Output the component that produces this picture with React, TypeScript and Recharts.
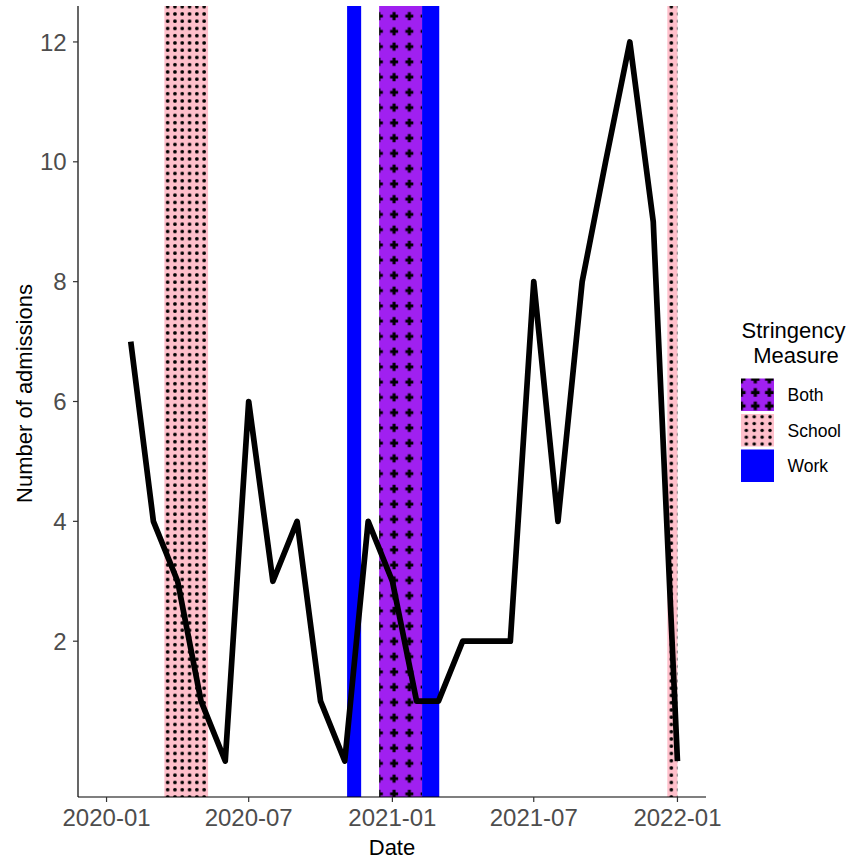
import React from "react";
import { LineChart, Line, XAxis, YAxis, ReferenceArea, Legend } from "recharts";

// ---- data ----
const months = [
  "2020-02", "2020-03", "2020-04", "2020-05", "2020-06", "2020-07",
  "2020-08", "2020-09", "2020-10", "2020-11", "2020-12", "2021-01",
  "2021-02", "2021-03", "2021-04", "2021-05", "2021-06", "2021-07",
  "2021-08", "2021-09", "2021-10", "2021-11", "2021-12", "2022-01",
];
const admissions = [7, 4, 3, 1, 0, 6, 3, 4, 1, 0, 4, 3, 1, 1, 2, 2, 2, 8, 4, 8, 10, 12, 9, 0];

const xTickLabels = ["2020-01", "2020-07", "2021-01", "2021-07", "2022-01"];
const yTicks = [2, 4, 6, 8, 10, 12];

const periodStart = ["2020-03-15", "2020-11-04", "2020-12-15", "2021-02-08", "2021-12-19"];
const periodEnd = ["2020-05-10", "2020-11-22", "2021-02-08", "2021-03-02", "2022-01-01"];
const periodType = ["School", "Work", "Both", "Work", "School"];

const legendLabels = ["Both", "School", "Work"];
const dataStart = "2020-01-01";
const dataEnd = "2022-01-01";

// ---- helpers ----
const DAY = 86400000;
const ORIGIN = Date.UTC(2020, 0, 1);
const toDay = (s: string) => {
  const [y, m, d] = s.split("-").map(Number);
  return (Date.UTC(y, m - 1, d || 1) - ORIGIN) / DAY;
};

const lineData = months.map((m, i) => ({ x: toDay(m), y: admissions[i] }));
const xTicks = xTickLabels.map(toDay);
const span = toDay(dataEnd) - toDay(dataStart);
const xDomain = [toDay(dataStart) - 0.05 * span, toDay(dataEnd) + 0.05 * span];
const yDomain = [-0.6, 12.6];

const fillFor: Record<string, string> = {
  School: "url(#schoolPat)",
  Work: "#0000FF",
  Both: "url(#bothPat)",
};
const legendFill: Record<string, string> = {
  School: "url(#schoolLegPat)",
  Work: "#0000FF",
  Both: "url(#bothLegPat)",
};

const FONT = "'Liberation Sans', Arial, Helvetica, sans-serif";

const crossPath = (cx: number, cy: number, arm: number, th: number) => {
  const a = arm / 2;
  const t = th / 2;
  return `M${cx - t},${cy - a}H${cx + t}V${cy - t}H${cx + a}V${cy + t}H${cx + t}V${cy + a}H${cx - t}V${cy + t}H${cx - a}V${cy - t}H${cx - t}Z`;
};

const XTick = (props: any) => {
  const { x, y, payload } = props;
  const idx = xTicks.indexOf(payload.value);
  return (
    <text x={x} y={y + 24.3} textAnchor="middle" fontSize={24} fill="#4D4D4D" fontFamily={FONT}>
      {idx >= 0 ? xTickLabels[idx] : ""}
    </text>
  );
};

const YTick = (props: any) => {
  const { x, y, payload } = props;
  return (
    <text x={x - 6.3} y={y} dy="0.36em" textAnchor="end" fontSize={24} fill="#4D4D4D" fontFamily={FONT}>
      {payload.value}
    </text>
  );
};

const LegendContent = () => {
  const ox = 720;
  const oy = 300;
  const keyX = 741 - ox;
  const keyYs = [378.5 - oy, 414 - oy, 449.5 - oy];
  return (
    <svg width={131} height={200} style={{ overflow: "visible", display: "block" }}>
      <text x={793.5 - ox} y={338.3 - oy} textAnchor="middle" fontSize={22} fill="#000" fontFamily={FONT}>
        Stringency
      </text>
      <text x={796 - ox} y={363.3 - oy} textAnchor="middle" fontSize={22} fill="#000" fontFamily={FONT}>
        Measure
      </text>
      {legendLabels.map((lab, i) => (
        <g key={lab}>
          <rect x={keyX} y={keyYs[i]} width={33} height={32.5} fill={legendFill[lab]} />
          <text
            x={787.5 - ox}
            y={keyYs[i] + 16.25}
            dy="0.36em"
            fontSize={17.5}
            fill="#000"
            fontFamily={FONT}
          >
            {lab}
          </text>
        </g>
      ))}
    </svg>
  );
};

export default function App() {
  return (
    <div style={{ position: "absolute", left: 0, top: 0, width: 851, height: 860, background: "#fff" }}>
      <svg width={0} height={0} style={{ position: "absolute" }}>
        <defs>
          <pattern id="schoolPat" patternUnits="userSpaceOnUse" x={164} y={3.1} width={7.3} height={7.25}>
            <rect x={0} y={0} width={7.3} height={7.25} fill="#FFC0CB" />
            <circle cx={3.65} cy={3.62} r={1.85} fill="#000" />
          </pattern>
          <pattern id="bothPat" patternUnits="userSpaceOnUse" x={386.5} y={8.5} width={15.25} height={15.25}>
            <rect x={0} y={0} width={15.25} height={15.25} fill="#A020F0" />
            <path d={crossPath(7.6, 7.6, 8, 3)} fill="#000" />
          </pattern>
          <pattern id="schoolLegPat" patternUnits="userSpaceOnUse" x={741.3} y={412.6} width={7.9} height={6.8}>
            <rect x={0} y={0} width={7.9} height={6.8} fill="#FFC0CB" />
            <circle cx={3.95} cy={3.4} r={1.75} fill="#000" />
          </pattern>
          <pattern id="bothLegPat" patternUnits="userSpaceOnUse" x={742.3} y={380.3} width={14} height={13.4}>
            <rect x={0} y={0} width={14} height={13.4} fill="#A020F0" />
            <path d={crossPath(7, 7, 8.5, 3.2)} fill="#000" />
          </pattern>
        </defs>
      </svg>
      <LineChart
        width={851}
        height={860}
        data={lineData}
        margin={{ top: 6, right: 145, bottom: 0, left: 0 }}
        style={{ fontFamily: FONT }}
      >
        <XAxis
          dataKey="x"
          type="number"
          domain={xDomain}
          ticks={xTicks}
          allowDataOverflow
          height={63}
          tickSize={5}
          tickMargin={0}
          axisLine={{ stroke: "#000", strokeWidth: 1.2 }}
          tickLine={{ stroke: "#333", strokeWidth: 1.2 }}
          tick={<XTick />}
          interval={0}
        />
        <YAxis
          type="number"
          domain={yDomain}
          ticks={yTicks}
          allowDataOverflow
          width={78}
          tickSize={5}
          tickMargin={0}
          axisLine={{ stroke: "#000", strokeWidth: 1.2 }}
          tickLine={{ stroke: "#333", strokeWidth: 1.2 }}
          tick={<YTick />}
          interval={0}
        />
        {periodType.map((t, i) => (
          <ReferenceArea
            key={i}
            x1={toDay(periodStart[i])}
            x2={toDay(periodEnd[i])}
            y1={yDomain[0]}
            y2={yDomain[1]}
            fill={fillFor[t]}
            fillOpacity={1}
            stroke="none"
            ifOverflow="hidden"
          />
        ))}
        <Line
          type="linear"
          dataKey="y"
          stroke="#000"
          strokeWidth={5.7}
          strokeLinejoin="round"
          dot={false}
          activeDot={false}
          isAnimationActive={false}
        />
        <Legend
          layout="horizontal"
          align="center"
          verticalAlign="middle"
          content={<LegendContent />}
          wrapperStyle={{ left: 720, top: 300, right: "auto", bottom: "auto", width: 131, height: 200 }}
        />
      </LineChart>
      <svg
        width={851}
        height={860}
        style={{ position: "absolute", left: 0, top: 0, pointerEvents: "none" }}
      >
        <text
          transform="translate(32,393.5) rotate(-90)"
          textAnchor="middle"
          fontSize={22}
          fill="#000"
          fontFamily={FONT}
        >
          Number of admissions
        </text>
        <text x={392} y={855} textAnchor="middle" fontSize={22} fill="#000" fontFamily={FONT}>
          Date
        </text>
      </svg>
    </div>
  );
}
